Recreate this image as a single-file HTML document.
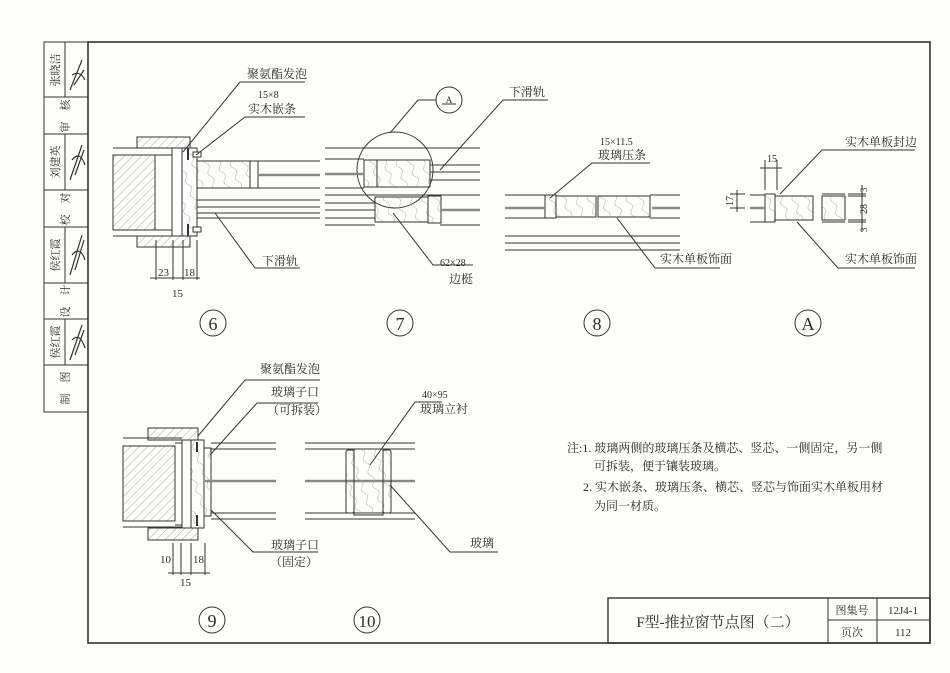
<!DOCTYPE html>
<html><head><meta charset="utf-8"><style>
html,body{margin:0;padding:0;background:#fdfdfb}
svg{display:block}
text{font-family:"Liberation Serif","Noto Serif CJK SC","Noto Sans CJK SC",serif;fill:#2a2a2a}
</style></head><body>
<svg width="950" height="673" viewBox="0 0 950 673" xmlns="http://www.w3.org/2000/svg">
<defs>
<pattern id="h" width="6" height="6" patternUnits="userSpaceOnUse" patternTransform="rotate(45)"><line x1="0" y1="0" x2="0" y2="6" stroke="#666" stroke-width="0.6"/></pattern>
<pattern id="w" width="14" height="12" patternUnits="userSpaceOnUse" patternTransform="rotate(70)"><path d="M0 6 Q3.5 2 7 6 T14 6" stroke="#999" stroke-width="0.5" fill="none"/></pattern>
</defs>
<rect width="950" height="673" fill="#fdfdfb"/>
<g stroke="#333" fill="none" stroke-width="1">
<rect x="88" y="42" width="842" height="601" stroke-width="1.6"/>
<rect x="44" y="42" width="44" height="370"/>
<line x1="65" y1="42" x2="65" y2="97"/><line x1="65" y1="134" x2="65" y2="190"/><line x1="65" y1="227" x2="65" y2="283"/><line x1="65" y1="319" x2="65" y2="365"/>
<line x1="44" y1="97" x2="88" y2="97"/><line x1="44" y1="134" x2="88" y2="134"/><line x1="44" y1="190" x2="88" y2="190"/><line x1="44" y1="227" x2="88" y2="227"/><line x1="44" y1="283" x2="88" y2="283"/><line x1="44" y1="319" x2="88" y2="319"/><line x1="44" y1="365" x2="88" y2="365"/>
<rect x="608" y="598" width="322" height="45" stroke-width="1.4"/>
<line x1="828" y1="598" x2="828" y2="643"/><line x1="877" y1="598" x2="877" y2="643"/><line x1="828" y1="620" x2="930" y2="620"/>
</g>
<g stroke="#333" fill="none" stroke-width="1.2">
<path d="M70 90 L82 60 M72 75 Q80 70 85 80 M74 85 L84 70"/>
<path d="M70 180 L82 145 M72 160 Q80 150 85 165 M75 175 L84 150"/>
<path d="M70 275 L82 235 M72 255 Q80 245 85 260 M75 270 L84 240"/>
<path d="M70 360 L82 325 M72 340 Q80 332 85 348 M75 355 L84 330"/>
</g>
<g font-size="11">
<text transform="translate(59,70) rotate(-90)" text-anchor="middle">张晓洁</text>
<text transform="translate(69,116) rotate(-90)" text-anchor="middle">审　核</text>
<text transform="translate(59,162) rotate(-90)" text-anchor="middle">刘建英</text>
<text transform="translate(69,209) rotate(-90)" text-anchor="middle">校　对</text>
<text transform="translate(59,255) rotate(-90)" text-anchor="middle">侯红霞</text>
<text transform="translate(69,301) rotate(-90)" text-anchor="middle">设　计</text>
<text transform="translate(59,342) rotate(-90)" text-anchor="middle">侯红霞</text>
<text transform="translate(69,388) rotate(-90)" text-anchor="middle">制　图</text>
</g>

<!-- Detail 6 -->
<g stroke="#333" stroke-width="1" fill="none">
<path d="M113 148 H182 M113 236 H182"/>
<rect x="113" y="155" width="42" height="75" fill="url(#h)"/>
<path d="M155 155 H172 V230 H155"/>
<rect x="172" y="148" width="10" height="88" fill="#fff"/>
<rect x="182" y="148" width="15" height="88" fill="url(#w)"/>
<rect x="137" y="137" width="53" height="11" fill="url(#h)"/>
<rect x="137" y="236" width="53" height="11" fill="url(#h)"/>
<path d="M188 148 V160 M188 224 V236" stroke-width="2"/>
<rect x="193" y="152" width="8" height="5" fill="#fff"/><rect x="193" y="227" width="8" height="5" fill="#fff"/>
<rect x="197" y="161" width="53" height="27" fill="url(#w)"/>
<rect x="250" y="161" width="8" height="27"/>
<path d="M258 161 H320 M258 188 H320 M197 200 H320 M197 207 H320 M197 213 H320 M197 218 H320"/>
<line x1="258" y1="175" x2="320" y2="175" stroke-width="2.5" stroke="#888"/>
<path d="M183 152 L240 82 H305 M196 155 L245 117 H305 M215 213 L255 268 H300"/>
<path d="M156 240 V280 M173 240 V280 M183 240 V280 M197 240 V280 M150 278 H200"/>
<circle cx="213" cy="323" r="13"/>
</g>
<g font-size="12">
<text x="247" y="78">聚氨酯发泡</text>
<text x="258" y="98" font-size="10">15×8</text>
<text x="248" y="113">实木嵌条</text>
<text x="262" y="265">下滑轨</text>
<text x="158" y="276" font-size="11">23</text>
<text x="184" y="276" font-size="11">18</text>
<text x="172" y="297" font-size="11">15</text>
<text x="213" y="330" font-size="18" text-anchor="middle">6</text>
</g>

<!-- Detail 7 -->
<g stroke="#333" stroke-width="1" fill="none">
<circle cx="449" cy="100" r="13"/><line x1="442" y1="104" x2="456" y2="104"/>
<path d="M436 100 H418 L390 133"/>
<circle cx="395" cy="170" r="38"/>
<path d="M325 159 H364 M325 188 H364 M325 148 H480"/>
<path d="M430 165 H480 M430 172 H480 M430 180 H480"/>
<rect x="364" y="160" width="13" height="27" fill="url(#w)"/>
<rect x="377" y="160" width="53" height="27" fill="url(#w)"/>
<path d="M325 195 H440 M325 203 H375 M325 210 H375 M325 218 H375 M440 195 H480 M440 225 H480 M325 225 H375"/>
<rect x="375" y="197" width="53" height="25" fill="url(#w)"/>
<rect x="428" y="196" width="13" height="27" fill="url(#w)"/>
<line x1="325" y1="174" x2="364" y2="174" stroke-width="2.5" stroke="#888"/>
<line x1="441" y1="210" x2="480" y2="210" stroke-width="2.5" stroke="#888"/>
<path d="M440 170 L503 100 H548 M393 213 L433 265 H473"/>
<circle cx="400" cy="323" r="13"/>
</g>
<g font-size="12">
<text x="449" y="103" font-size="9" text-anchor="middle">A</text>
<text x="509" y="96">下滑轨</text>
<text x="440" y="266" font-size="10">62×28</text>
<text x="449" y="283">边梃</text>
<text x="400" y="330" font-size="18" text-anchor="middle">7</text>
</g>

<!-- Detail 8 -->
<g stroke="#333" stroke-width="1" fill="none">
<path d="M505 195 H545 M505 218 H545 M650 195 H680 M650 218 H680"/>
<rect x="545" y="195" width="11" height="23" fill="url(#w)"/>
<rect x="556" y="196" width="40" height="21" fill="url(#w)"/>
<rect x="598" y="196" width="52" height="21" fill="url(#w)"/>
<path d="M505 236 H680 M505 243 H680 M505 250 H680"/>
<line x1="505" y1="208" x2="545" y2="208" stroke-width="2.5" stroke="#888"/>
<line x1="652" y1="208" x2="680" y2="208" stroke-width="2.5" stroke="#888"/>
<path d="M550 198 L592 163 H650 M617 218 L655 268 H720"/>
<circle cx="597" cy="323" r="13"/>
</g>
<g font-size="12">
<text x="600" y="145" font-size="10">15×11.5</text>
<text x="598" y="159">玻璃压条</text>
<text x="660" y="263">实木单板饰面</text>
<text x="597" y="330" font-size="18" text-anchor="middle">8</text>
</g>

<!-- Detail A -->
<g stroke="#333" stroke-width="1" fill="none">
<path d="M750 195 H765 M750 222 H765"/>
<rect x="765" y="194" width="10" height="28" fill="url(#w)"/>
<rect x="775" y="196" width="38" height="24" fill="url(#w)"/>
<path d="M775 196 H813 M775 220 H813"/>
<path d="M822 194 H845 M822 222 H845"/>
<rect x="822" y="196" width="23" height="24" fill="url(#w)"/>
<line x1="750" y1="208" x2="765" y2="208" stroke-width="2.5" stroke="#888"/>
<path d="M765 160 V190 M777 160 V190 M760 168 H782"/>
<path d="M730 194 H745 M730 208 H745 M737 190 V212"/>
<path d="M848 194 H866 M848 196 H866 M848 220 H866 M848 222 H866 M862 185 V232"/>
<path d="M780 194 L822 150 H915 M797 222 L838 268 H915"/>
<circle cx="808" cy="323" r="13"/>
</g>
<g font-size="12">
<text x="767" y="162" font-size="10">15</text>
<text transform="translate(733,206) rotate(-90)" font-size="10">17</text>
<text transform="translate(867,214) rotate(-90)" font-size="10">28</text>
<text transform="translate(867,192) rotate(-90)" font-size="9">3</text>
<text transform="translate(867,232) rotate(-90)" font-size="9">3</text>
<text x="845" y="146">实木单板封边</text>
<text x="845" y="263">实木单板饰面</text>
<text x="808" y="330" font-size="18" text-anchor="middle">A</text>
</g>

<!-- Detail 9 -->
<g stroke="#333" stroke-width="1" fill="none">
<path d="M123 438 H182 M123 527 H182"/>
<rect x="123" y="446" width="52" height="75" fill="url(#h)"/>
<path d="M175 443 H182 V525 H175"/>
<rect x="182" y="440" width="9" height="88"/>
<rect x="191" y="440" width="13" height="88" fill="url(#w)"/>
<rect x="148" y="428" width="50" height="12" fill="url(#h)"/>
<rect x="148" y="528" width="50" height="12" fill="url(#h)"/>
<path d="M197 442 V452 M197 515 V526" stroke-width="2"/>
<rect x="204" y="448" width="7" height="68" fill="url(#w)"/>
<path d="M211 443 H276 M211 449 H276 M211 513 H276 M211 519 H276"/>
<line x1="205" y1="481" x2="276" y2="481" stroke-width="2.5" stroke="#888"/>
<path d="M198 436 L245 380 H320 M210 455 L257 403 H318 M211 510 L253 552 H318"/>
<path d="M173 543 V575 M181 543 V575 M191 543 V575 M205 543 V575 M168 573 H210"/>
<circle cx="212" cy="620" r="13"/>
</g>
<g font-size="12">
<text x="260" y="373">聚氨酯发泡</text>
<text x="271" y="396">玻璃子口</text>
<text x="267" y="414">（可拆装）</text>
<text x="271" y="549">玻璃子口</text>
<text x="270" y="566">（固定）</text>
<text x="160" y="563" font-size="11">10</text>
<text x="193" y="563" font-size="11">18</text>
<text x="180" y="586" font-size="11">15</text>
<text x="212" y="627" font-size="18" text-anchor="middle">9</text>
</g>

<!-- Detail 10 -->
<g stroke="#333" stroke-width="1" fill="none">
<path d="M305 443 H415 M305 449 H415 M305 513 H415 M305 519 H415"/>
<line x1="305" y1="481" x2="415" y2="481" stroke-width="2.5" stroke="#888"/>
<rect x="346" y="450" width="8" height="63" rx="2" fill="url(#w)"/>
<rect x="354" y="449" width="29" height="66" fill="url(#w)"/>
<rect x="383" y="450" width="8" height="63" rx="2" fill="url(#w)"/>
<path d="M370 465 L415 402 H442 M390 485 L450 552 H498"/>
<circle cx="367" cy="620" r="13"/>
</g>
<g font-size="12">
<text x="422" y="398" font-size="10">40×95</text>
<text x="420" y="413">玻璃立衬</text>
<text x="470" y="547">玻璃</text>
<text x="367" y="627" font-size="17" text-anchor="middle">10</text>
</g>

<g font-size="12">
<text x="567" y="452">注:1. 玻璃两侧的玻璃压条及横芯、竖芯、一侧固定，另一侧</text>
<text x="594" y="470">可拆装，便于镶装玻璃。</text>
<text x="583" y="491">2. 实木嵌条、玻璃压条、横芯、竖芯与饰面实木单板用材</text>
<text x="594" y="510">为同一材质。</text>
</g>

<g>
<text x="718" y="627" font-size="15" text-anchor="middle">F型-推拉窗节点图（二）</text>
<text x="852" y="614" font-size="11" text-anchor="middle">图集号</text>
<text x="852" y="636" font-size="11" text-anchor="middle">页次</text>
<text x="903" y="614" font-size="11" text-anchor="middle">12J4-1</text>
<text x="903" y="636" font-size="11" text-anchor="middle">112</text>
</g>
</svg>
</body></html>
